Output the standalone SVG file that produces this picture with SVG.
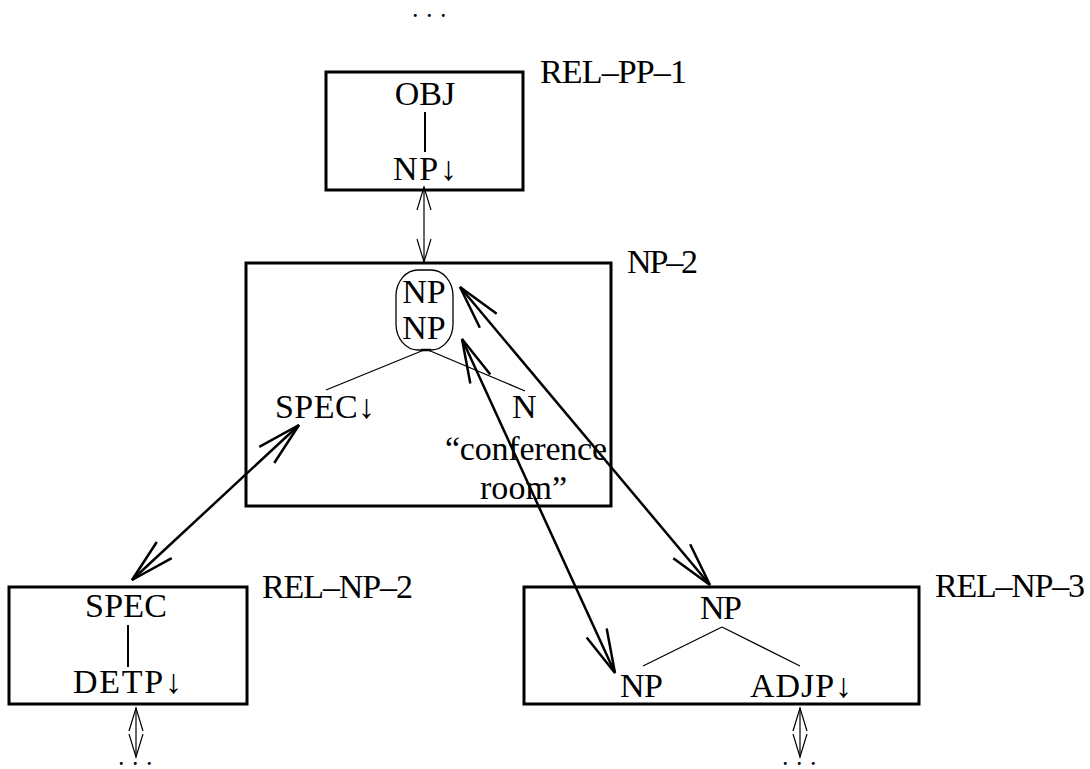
<svg xmlns="http://www.w3.org/2000/svg" width="1090" height="769" viewBox="0 0 1090 769">
<style>
text{font-family:"Liberation Serif","DejaVu Serif",serif;font-size:34px;fill:#000}
.dots{font-size:18px;font-weight:bold}
.box{fill:none;stroke:#000;stroke-width:3}
.tree{stroke:#000;stroke-width:1.3;fill:none}
.stem{stroke:#000;stroke-width:2;fill:none}
.heavy{stroke:#000;stroke-width:2.5;fill:none;marker-start:url(#hh);marker-end:url(#hh)}
.thin{stroke:#000;stroke-width:1.2;fill:none;marker-start:url(#th);marker-end:url(#th)}
.c{text-anchor:middle}
</style>
<defs>
<marker id="hh" markerUnits="userSpaceOnUse" orient="auto-start-reverse" refX="0" refY="0" markerWidth="1" markerHeight="1" overflow="visible">
<path d="M -44 -11 L 0 0 L -44 11" fill="none" stroke="#000" stroke-width="2.5"/>
</marker>
<marker id="th" markerUnits="userSpaceOnUse" orient="auto-start-reverse" refX="0" refY="0" markerWidth="1" markerHeight="1" overflow="visible">
<path d="M -23 -7 L 0 0 L -23 7" fill="none" stroke="#000" stroke-width="1.2"/>
</marker>
</defs>
<rect width="1090" height="769" fill="#fff"/>

<g id="top-dots"><text class="dots" x="413 427 441" y="17">...</text></g>

<g id="rel-pp-1">
<rect class="box" x="326" y="72" width="197" height="118"/>
<text class="c" x="425" y="105">OBJ</text>
<line class="stem" x1="425" y1="112" x2="425" y2="152"/>
<text x="393" y="180" textLength="64">NP↓</text>
<text x="540" y="83" textLength="147">REL–PP–1</text>
</g>

<g id="np-2">
<rect class="box" x="246" y="263" width="365" height="243" stroke-width="2.5"/>
<text x="627" y="273" textLength="71">NP–2</text>
<rect x="396" y="270" width="57" height="80" rx="22" ry="26" fill="none" stroke="#000" stroke-width="1.3"/>
<text class="c" x="424" y="303">NP</text>
<text class="c" x="424" y="339">NP</text>
<line x1="421" y1="350" x2="431" y2="350" stroke="#000" stroke-width="2.5"/>
<path class="tree" d="M 424 350 L 326 390 M 428 350 L 525 391"/>
<text x="275" y="418" textLength="100">SPEC↓</text>
<text x="512" y="418">N</text>
<text x="445" y="460" textLength="162">“conference</text>
<text x="480" y="499" textLength="87">room”</text>
</g>

<g id="rel-np-2">
<rect class="box" x="9" y="587" width="238" height="117"/>
<text x="85" y="617" textLength="82">SPEC</text>
<line class="stem" x1="128" y1="625" x2="128" y2="667" stroke-width="1.8"/>
<text x="73" y="693" textLength="109">DETP↓</text>
<text x="262" y="598" textLength="151">REL–NP–2</text>
</g>

<g id="rel-np-3">
<rect class="box" x="524" y="587" width="395" height="117"/>
<text x="700" y="619" textLength="42">NP</text>
<path class="tree" d="M 722 627 L 643 666 M 722 627 L 800 666"/>
<text x="620" y="697" textLength="43">NP</text>
<text x="750" y="697" textLength="102">ADJP↓</text>
<text x="935" y="597" textLength="150">REL–NP–3</text>
</g>

<g id="bottom-dots-left"><text class="dots" x="119 133 147" y="765">...</text></g>
<g id="bottom-dots-right"><text class="dots" x="783 797 811" y="765">...</text></g>

<g id="connectors">
<line class="thin" x1="424" y1="187" x2="424" y2="262"/>
<line class="thin" x1="136" y1="708" x2="136" y2="757"/>
<line class="thin" x1="800" y1="708" x2="800" y2="757"/>
<line class="heavy" x1="299" y1="425" x2="132" y2="580"/>
<line class="heavy" x1="460" y1="287" x2="710" y2="585"/>
<line class="heavy" x1="462" y1="339" x2="615" y2="673"/>
</g>
</svg>
